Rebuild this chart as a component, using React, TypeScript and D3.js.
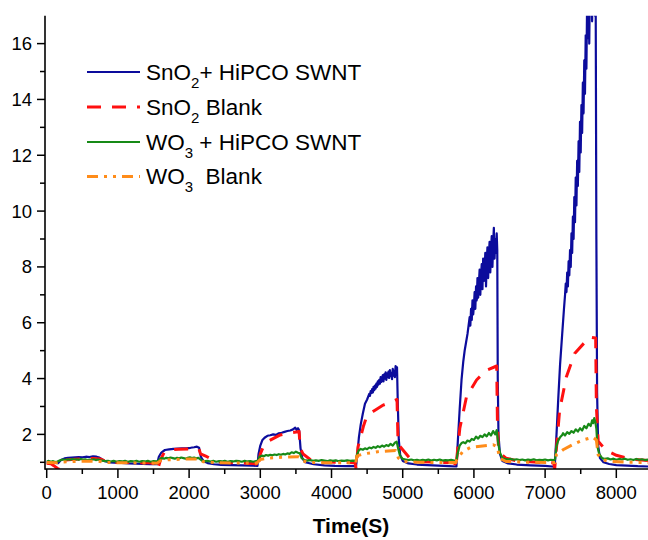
import React from "react";
import * as d3 from "d3";

type Pt = [number, number];

const xTicks = [0, 1000, 2000, 3000, 4000, 5000, 6000, 7000, 8000];
const xMinorTicks = [500, 1500, 2500, 3500, 4500, 5500, 6500, 7500];
const yTicks = [2, 4, 6, 8, 10, 12, 14, 16];
const yMinorTicks = [1, 3, 5, 7, 9, 11, 13, 15];

const sno2Swnt: Pt[] = [
  [0,1.0],[40,0.99],[80,1.0],[120,0.98],[160,0.97],[200,1.08],[250,1.14],[300,1.16],[350,1.17],[400,1.18],[450,1.19],[500,1.18],[550,1.2],[600,1.19],[650,1.21],[700,1.2],[740,1.17],[780,1.1],[820,1.04],[880,1.0],[950,0.99],[1050,0.98],[1150,0.96],[1250,0.95],[1350,0.94],[1450,0.93],[1550,0.93],
  [1575,1.2],[1610,1.35],[1660,1.44],[1720,1.46],[1780,1.48],[1840,1.49],[1900,1.5],[1960,1.5],[2020,1.52],[2070,1.54],[2110,1.56],[2140,1.52],[2165,1.2],[2200,1.05],[2260,0.97],[2350,0.93],[2450,0.91],[2600,0.9],[2750,0.89],[2900,0.88],[2960,0.87],
  [2975,1.3],[3000,1.6],[3030,1.8],[3060,1.88],[3100,1.95],[3140,1.97],[3180,2.0],[3220,1.98],[3260,2.04],[3300,2.06],[3340,2.09],[3380,2.12],[3420,2.14],[3460,2.18],[3490,2.24],[3510,2.16],[3530,2.22],[3545,2.15],[3565,1.5],[3590,1.15],[3630,1.0],[3750,0.93],[3900,0.89],[4050,0.87],[4200,0.86],[4345,0.86],
  [4360,1.2],[4385,1.9],[4410,2.35],[4440,2.75],[4470,3.1],[4500,3.25],
  [4530,3.45],[4540,3.38],[4550,3.55],[4560,3.48],[4570,3.62],[4580,3.5],[4590,3.7],[4600,3.58],[4610,3.75],[4620,3.64],
  [4630,3.82],[4640,3.7],[4650,3.9],[4660,3.78],[4670,3.95],[4680,3.82],[4690,4.05],[4700,3.88],[4710,4.0],[4720,4.12],
  [4730,3.9],[4740,4.15],[4750,4.0],[4760,4.22],[4770,3.95],[4780,4.18],[4790,4.05],[4800,4.25],[4810,4.02],[4820,4.3],
  [4830,4.1],[4840,4.2],[4850,3.98],[4860,4.35],[4870,4.1],[4880,4.28],[4890,4.05],[4900,4.45],[4910,4.15],[4920,4.4],
  [4932,3.0],[4945,1.8],[4965,1.25],[5000,1.05],[5080,0.96],[5200,0.92],[5350,0.9],[5500,0.88],[5650,0.86],[5755,0.85],
  [5775,1.8],[5800,2.9],[5826,3.95],[5850,4.6],[5870,5.0],[5890,5.3],[5910,5.6],[5925,5.9],
  [5940,6.2],[5950,5.9],[5960,6.5],[5970,6.1],[5980,6.8],[5990,6.3],[6000,6.6],[6010,7.1],[6020,6.5],[6030,7.3],
  [6040,6.8],[6050,7.6],[6060,6.9],[6070,7.4],[6080,7.9],[6090,7.0],[6100,7.7],[6110,8.1],[6120,7.2],[6130,8.3],
  [6140,7.5],[6150,7.9],[6160,8.5],[6170,7.3],[6180,8.2],[6190,8.7],[6200,7.6],[6210,8.4],[6220,8.9],[6230,7.8],
  [6240,8.6],[6250,9.1],[6260,8.0],[6270,8.8],[6280,9.4],[6290,8.3],[6300,9.0],[6310,8.5],[6320,9.2],[6328,8.6],
  [6335,4.0],[6345,2.0],[6365,1.3],[6400,1.05],[6480,0.96],[6600,0.92],[6800,0.89],[7000,0.87],[7135,0.84],
  [7160,2.0],[7185,3.3],[7210,4.5],[7240,5.6],[7265,6.5],
  [7280,7.0],[7290,7.4],[7300,7.1],[7310,7.8],[7320,7.3],[7330,8.2],[7340,7.7],[7350,8.6],[7360,8.0],[7370,9.2],
  [7380,8.5],[7390,9.8],[7400,9.0],[7410,10.5],[7420,9.6],[7430,11.2],[7440,10.2],[7450,11.8],[7460,10.9],[7470,12.5],
  [7480,11.4],[7490,13.2],[7500,12.1],[7510,13.8],[7520,12.8],[7530,14.6],[7540,13.5],[7550,15.4],[7560,14.2],[7570,16.3],
  [7580,15.1],[7590,17.5],[7600,16.2],[7610,18.0],[7620,16.0],[7630,18.4],[7640,17.1],[7650,18.2],[7660,16.8],[7670,18.5],
  [7680,17.3],[7690,18.1],[7700,17.0],[7710,17.8],
  [7720,9.0],[7730,3.5],[7745,1.6],[7770,1.15],[7820,1.0],[7900,0.94],[8000,0.9],[8150,0.88],[8300,0.86],[8450,0.85]
];

const sno2Blank: Pt[] = [
  [0,0.97],[60,0.95],[100,0.88],[150,0.78],[165,0.8],[200,1.0],[260,1.08],[350,1.1],[500,1.12],[650,1.14],[750,1.12],[820,1.05],[950,1.0],[1200,0.99],[1450,0.98],[1540,0.95],
  [1560,0.76],[1600,1.1],[1650,1.35],[1720,1.44],[1850,1.47],[2000,1.48],[2140,1.47],[2160,1.3],[2250,1.2],[2340,1.08],[2450,1.0],[2700,0.98],[2940,0.95],
  [2960,0.76],[3000,1.3],[3050,1.6],[3100,1.74],[3280,1.98],[3400,2.05],[3545,2.1],[3560,1.5],[3600,1.3],[3700,1.1],[3800,1.02],[4100,1.0],[4330,0.98],
  [4345,0.78],[4373,1.56],[4447,2.28],[4494,2.64],[4600,2.85],[4727,3.05],[4920,3.25],[4935,1.65],[5000,1.45],[5130,1.05],[5250,1.02],[5500,1.0],[5730,0.98],
  [5745,0.78],[5802,2.22],[5896,3.35],[6037,3.95],[6177,4.3],[6320,4.45],[6330,2.5],[6345,1.5],[6380,1.3],[6450,1.15],[6600,1.05],[6900,1.0],[7120,0.98],
  [7135,0.78],[7204,2.87],[7298,4.06],[7415,4.9],[7625,5.49],[7710,5.45],[7720,3.0],[7745,1.75],[7790,1.62],[7860,1.42],[8000,1.25],[8200,1.12],[8450,1.06]
];

const wo3Swnt: Pt[] = [
  [0,1.03],[30,1.05],[60,1.02],[90,1.04],[120,1.01],[150,1.03],[180,1.06],[210,1.09],[240,1.1],[270,1.08],[300,1.11],[330,1.09],[360,1.12],[390,1.1],[420,1.11],[450,1.09],[480,1.12],[510,1.1],[540,1.11],[570,1.08],[600,1.1],[630,1.09],[660,1.11],[690,1.08],[720,1.1],[750,1.07],[780,1.06],[820,1.04],[860,1.05],[900,1.03],[940,1.05],[980,1.02],[1020,1.04],[1060,1.03],[1100,1.05],[1140,1.02],[1180,1.04],[1220,1.03],[1260,1.05],[1300,1.02],[1340,1.04],[1380,1.03],[1420,1.05],[1460,1.02],[1500,1.04],[1540,1.03],
  [1565,1.05],[1590,1.12],[1620,1.15],[1650,1.13],[1680,1.16],[1710,1.14],[1740,1.17],[1770,1.15],[1800,1.13],[1830,1.16],[1860,1.14],[1890,1.17],[1920,1.15],[1950,1.13],[1980,1.16],[2010,1.18],[2040,1.15],[2070,1.17],[2100,1.14],[2130,1.16],[2150,1.12],[2180,1.06],[2220,1.04],[2260,1.05],[2300,1.03],[2340,1.05],[2380,1.02],[2420,1.04],[2460,1.03],[2500,1.05],[2540,1.02],[2580,1.04],[2620,1.03],[2660,1.05],[2700,1.04],[2740,1.02],[2780,1.05],[2820,1.03],[2860,1.04],[2900,1.02],[2940,1.04],
  [2965,1.06],[2990,1.2],[3020,1.24],[3050,1.22],[3080,1.26],[3110,1.24],[3140,1.27],[3170,1.25],[3200,1.28],[3230,1.26],[3260,1.29],[3290,1.27],[3320,1.3],[3350,1.28],[3380,1.32],[3410,1.3],[3440,1.36],[3470,1.33],[3500,1.38],[3530,1.34],[3555,1.32],[3580,1.15],[3620,1.08],[3660,1.06],[3700,1.08],[3740,1.05],[3780,1.07],[3820,1.05],[3860,1.08],[3900,1.06],[3940,1.04],[3980,1.07],[4020,1.05],[4060,1.07],[4100,1.04],[4140,1.06],[4180,1.05],[4220,1.07],[4260,1.05],[4300,1.06],[4340,1.05],
  [4355,1.25],[4380,1.42],[4410,1.48],[4440,1.45],[4470,1.5],[4500,1.47],[4530,1.53],[4560,1.5],[4590,1.55],[4620,1.52],[4650,1.58],[4680,1.54],[4710,1.6],[4740,1.56],[4770,1.62],[4800,1.58],[4830,1.66],[4860,1.6],[4890,1.7],[4915,1.74],[4935,1.5],[4960,1.25],[5000,1.12],[5040,1.1],[5080,1.08],[5120,1.1],[5160,1.07],[5200,1.09],[5240,1.06],[5280,1.09],[5320,1.07],[5360,1.1],[5400,1.06],[5440,1.09],[5480,1.07],[5520,1.1],[5560,1.06],[5600,1.08],[5640,1.07],[5680,1.09],[5720,1.06],[5755,1.07],
  [5770,1.3],[5800,1.6],[5826,1.69],[5850,1.72],[5880,1.68],[5910,1.78],[5940,1.74],[5970,1.84],[6000,1.8],[6030,1.92],[6060,1.85],[6090,1.95],[6120,1.9],[6150,2.0],[6180,1.93],[6210,2.05],[6240,1.96],[6270,2.12],[6300,2.0],[6320,2.15],[6340,1.7],[6365,1.35],[6400,1.15],[6440,1.12],[6480,1.1],[6520,1.12],[6560,1.09],[6600,1.11],[6640,1.08],[6680,1.1],[6720,1.07],[6760,1.1],[6800,1.08],[6840,1.11],[6880,1.07],[6920,1.09],[6960,1.08],[7000,1.1],[7040,1.07],[7080,1.09],[7120,1.08],[7140,1.1],
  [7158,1.56],[7180,1.75],[7210,1.9],[7240,1.98],[7252,2.04],[7280,1.96],[7310,2.08],[7340,2.02],[7370,2.12],[7400,2.06],[7430,2.18],[7460,2.1],[7490,2.22],[7520,2.14],[7550,2.3],[7580,2.22],[7610,2.38],[7640,2.3],[7660,2.5],[7675,2.4],[7690,2.58],[7705,2.45],[7720,2.2],[7735,1.56],[7760,1.3],[7800,1.15],[7840,1.12],[7880,1.14],[7920,1.1],[7960,1.13],[8000,1.09],[8040,1.12],[8080,1.1],[8120,1.13],[8160,1.09],[8200,1.11],[8240,1.08],[8280,1.12],[8320,1.09],[8360,1.11],[8400,1.08],[8450,1.1]
];

const wo3Blank: Pt[] = [
  [0,0.99],[150,0.98],[200,1.01],[400,1.03],[600,1.04],[750,1.03],[850,0.99],[1200,0.98],[1550,0.97],[1600,1.06],[1700,1.09],[2000,1.12],[2140,1.12],[2200,1.02],[2400,0.98],[2950,0.97],
  [3000,1.1],[3100,1.15],[3300,1.18],[3540,1.2],[3600,1.05],[3700,0.99],[4340,0.98],[4358,1.23],[4450,1.3],[4650,1.38],[4900,1.42],[4940,1.15],[5000,1.03],[5200,1.0],[5750,0.99],
  [5757,1.09],[5845,1.39],[5950,1.53],[6270,1.63],[6330,1.55],[6360,1.15],[6450,1.03],[6800,1.0],[7140,0.99],[7158,1.27],[7252,1.45],[7400,1.65],[7532,1.8],[7672,1.9],[7720,1.8],[7745,1.27],[7800,1.1],[7900,1.03],[8200,1.0],[8450,0.99]
];

const seriesNames = ["SnO2+ HiPCO SWNT", "SnO2 Blank", "WO3 + HiPCO SWNT", "WO3  Blank"];

const W = 648, H = 540;
const plotL = 45, plotR = 648, plotT = 15.7, plotB = 469;
const FONT = "'Liberation Sans', Arial, Helvetica, sans-serif";

export default function App() {
  const x = d3.scaleLinear().domain([-24, 8445]).range([plotL, plotR]);
  const y = d3.scaleLinear().domain([0.76, 17.0]).range([plotB, plotT]);
  const line = d3.line<Pt>().x((d) => x(d[0])).y((d) => y(d[1]));

  const series = [
    { data: sno2Swnt, color: "#0c0c9c", width: 2.2, dash: "" },
    { data: sno2Blank, color: "#ff1010", width: 3, dash: "14,11" },
    { data: wo3Swnt, color: "#178a17", width: 2.2, dash: "" },
    { data: wo3Blank, color: "#ff8c1a", width: 3, dash: "11,6,3,6,3,6" },
  ];

  const legendY = [72, 107, 142, 176.5];
  const subSize = 15;

  const renderLabel = (i: number) => {
    const name = seriesNames[i];
    const m = name.match(/^([A-Za-z]+)(\d)(.*)$/);
    if (!m) return name;
    return (
      <>
        <tspan>{m[1]}</tspan>
        <tspan fontSize={subSize} dy={8}>{m[2]}</tspan>
        <tspan dy={-8}>{m[3]}</tspan>
      </>
    );
  };

  return (
    <svg width={W} height={H} style={{ position: "absolute", left: 0, top: 0, background: "#fff" }} fontFamily={FONT}>
      <defs>
        <clipPath id="plotClip">
          <rect x={plotL} y={plotT} width={plotR - plotL} height={plotB - plotT} />
        </clipPath>
      </defs>
      <rect x={0} y={0} width={W} height={H} fill="#fff" />
      <g clipPath="url(#plotClip)">
        {series.map((s, i) => (
          <path key={i} d={line(s.data) || ""} fill="none" stroke={s.color} strokeWidth={s.width}
            strokeDasharray={s.dash || undefined} strokeLinejoin="round" />
        ))}
      </g>
      <line x1={plotL} x2={plotL} y1={plotT} y2={plotB + 0.75} stroke="#000" strokeWidth={1.6} />
      <line x1={plotL} x2={plotR} y1={plotB} y2={plotB} stroke="#000" strokeWidth={1.6} />
      {xTicks.map((t) => (
        <g key={"xt" + t}>
          <line x1={x(t)} x2={x(t)} y1={plotB} y2={plotB + 9} stroke="#000" strokeWidth={1.5} />
          <text x={x(t)} y={499} textAnchor="middle" fontSize={18.5} fill="#000">{t}</text>
        </g>
      ))}
      {xMinorTicks.map((t) => (
        <line key={"xm" + t} x1={x(t)} x2={x(t)} y1={plotB} y2={plotB + 5} stroke="#000" strokeWidth={1.5} />
      ))}
      {yTicks.map((t) => (
        <g key={"yt" + t}>
          <line x1={plotL - 8} x2={plotL} y1={y(t)} y2={y(t)} stroke="#000" strokeWidth={1.5} />
          <text x={plotL - 13} y={y(t) + 6.5} textAnchor="end" fontSize={18.5} fill="#000">{t}</text>
        </g>
      ))}
      {yMinorTicks.map((t) => (
        <line key={"ym" + t} x1={plotL - 5} x2={plotL} y1={y(t)} y2={y(t)} stroke="#000" strokeWidth={1.5} />
      ))}
      <text x={351} y={533} textAnchor="middle" fontSize={21} fontWeight="bold" fill="#000">Time(S)</text>
      {series.map((s, i) => (
        <g key={"lg" + i}>
          <line x1={87} x2={140} y1={legendY[i]} y2={legendY[i]} stroke={s.color} strokeWidth={s.width}
            strokeDasharray={s.dash || undefined} />
          <text x={146} y={legendY[i] + 7.5} fontSize={22.5} fill="#000" style={{ whiteSpace: "pre" }}>
            {renderLabel(i)}
          </text>
        </g>
      ))}
    </svg>
  );
}
